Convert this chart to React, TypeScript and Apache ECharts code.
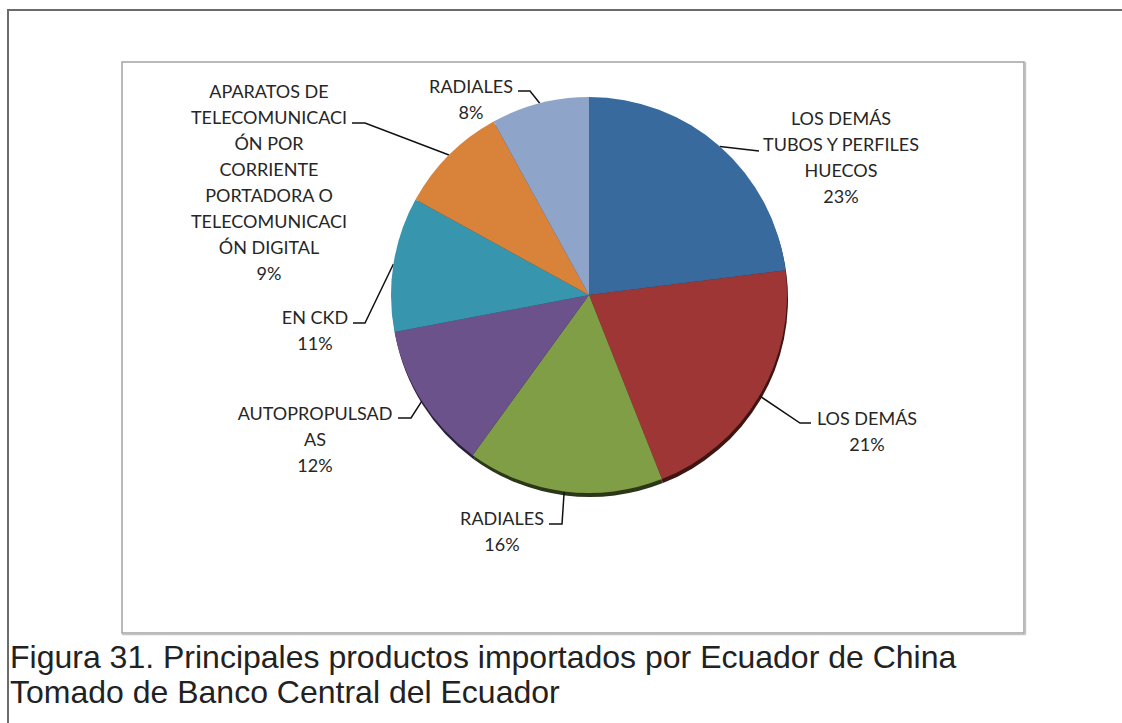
import React, { useEffect, useRef } from "react";
import * as echarts from "echarts";

// ---- data ----
const categories = [
  "LOS DEMÁS\nTUBOS Y PERFILES\nHUECOS",
  "LOS DEMÁS",
  "RADIALES",
  "AUTOPROPULSAD\nAS",
  "EN CKD",
  "APARATOS DE\nTELECOMUNICACI\nÓN POR\nCORRIENTE\nPORTADORA O\nTELECOMUNICACI\nÓN DIGITAL",
  "RADIALES",
];
const shares = [23, 21, 16, 12, 11, 9, 8];
const captionLines = [
  "Figura 31. Principales productos importados por Ecuador de China",
  "Tomado de Banco Central del Ecuador",
];

// ---- styles / layout ----
const sliceColors = ["#386a9e", "#9e3635", "#7f9e45", "#6b528a", "#3895ae", "#d8823a", "#8fa4c9"];
const sideColors = ["#1e3a57", "#3e1513", "#2c3618", "#2b1f3c", "#174250", "#5e3412", "#3c4660"];
const CX = 589;
const CY = 295;
const R = 198;
// label block centre, elbow and end of leader, relative to pie centre
const labelPlacement = [
  [252, -138, 170, -144, 170, -144],
  [278, 136, 211, 128, 222, 128],
  [-87, 236, -27, 229, -40, 229],
  [-274, 144, -178, 123, -191, 123],
  [-274, 35, -224, 28, -236, 28],
  [-320, -113, -224, -172, -237, -172],
  [-118, -196, -59, -204, -71, -204],
];

export default function App() {
  const ref = useRef<HTMLDivElement>(null);
  useEffect(() => {
    if (!ref.current) return;
    const chart = echarts.init(ref.current, undefined, { renderer: "svg" });
    const total = shares.reduce((a, b) => a + b, 0);
    const starts: number[][] = [];
    let cum = 0;
    shares.forEach((v) => {
      const mid = ((cum + v / 2) / total) * Math.PI * 2;
      starts.push([CX + R * Math.sin(mid), CY - R * Math.cos(mid)]);
      cum += v;
    });
    const data = categories.map((name, i) => ({
      name,
      value: shares[i],
      itemStyle: { color: sliceColors[i] },
    }));
    const sideData = categories.map((name, i) => ({
      name,
      value: shares[i],
      itemStyle: { color: sideColors[i] },
    }));
    chart.setOption({
      animation: false,
      backgroundColor: "#ffffff",
      graphic: [
        { type: "line", shape: { x1: 7, y1: 10, x2: 1122, y2: 10 }, style: { stroke: "#6b6b6b", lineWidth: 2 } },
        { type: "line", shape: { x1: 8, y1: 9, x2: 8, y2: 723 }, style: { stroke: "#6b6b6b", lineWidth: 2 } },
        { type: "rect", shape: { x: 122, y: 62, width: 902, height: 571 }, style: { fill: "none", stroke: "#a3a3a3", lineWidth: 1.5 } },
        { type: "line", shape: { x1: 1025.5, y1: 62, x2: 1025.5, y2: 634.5 }, style: { stroke: "#c4c4c4", lineWidth: 1.5 } },
        { type: "line", shape: { x1: 122, y1: 634.5, x2: 1025.5, y2: 634.5 }, style: { stroke: "#c4c4c4", lineWidth: 1.5 } },
        {
          type: "text",
          x: 10,
          y: 657,
          style: {
            text: captionLines[0],
            font: '32px "Liberation Sans", Arial, sans-serif',
            fill: "#222222",
            verticalAlign: "middle",
          },
        },
        {
          type: "text",
          x: 10,
          y: 692,
          style: {
            text: captionLines[1],
            font: '32px "Liberation Sans", Arial, sans-serif',
            fill: "#222222",
            verticalAlign: "middle",
          },
        },
      ],
      series: [
        {
          type: "pie",
          silent: true,
          center: [CX + 1, CY + 4],
          radius: [0, R],
          startAngle: 90,
          clockwise: true,
          avoidLabelOverlap: false,
          label: { show: false },
          labelLine: { show: false },
          itemStyle: { borderWidth: 0 },
          data: sideData,
          z: 1,
        },
        {
          type: "pie",
          center: [CX, CY],
          radius: [0, R],
          startAngle: 90,
          clockwise: true,
          avoidLabelOverlap: false,
          itemStyle: { borderWidth: 0 },
          label: {
            show: true,
            position: "outside",
            formatter: (p: any) => `${p.name}\n${Math.round(p.percent)}%`,
            fontFamily: "Lato, 'Noto Sans', sans-serif",
            fontSize: 18,
            lineHeight: 26,
            color: "#262626",
            align: "center",
          },
          labelLine: { show: true, lineStyle: { color: "#111111", width: 1.5 } },
          labelLayout: (params: any) => {
            const i = params.dataIndex;
            const p = labelPlacement[i];
            return {
              x: CX + p[0],
              y: CY + p[1],
              align: "center",
              verticalAlign: "middle",
              labelLinePoints: [starts[i], [CX + p[2], CY + p[3]], [CX + p[4], CY + p[5]]],
            };
          },
          data,
          z: 2,
        },
      ],
    });
    return () => chart.dispose();
  }, []);
  return (
    <div
      ref={ref}
      style={{ position: "absolute", left: 0, top: 0, width: 1122, height: 723, background: "#fff" }}
    />
  );
}
